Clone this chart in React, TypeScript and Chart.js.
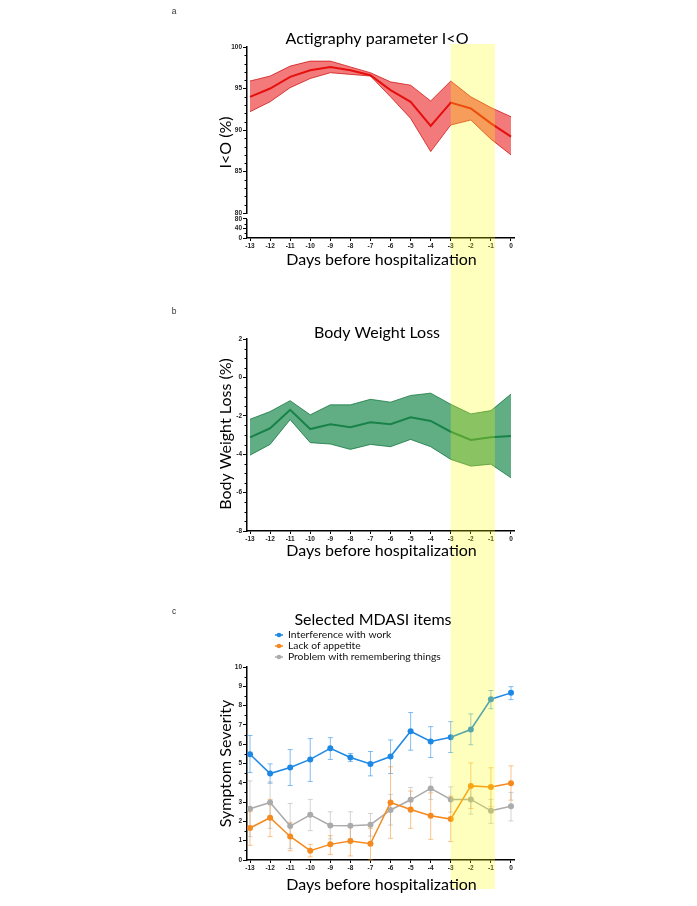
import React, { useEffect, useRef } from 'react';
import { Chart, registerables } from 'chart.js';
Chart.register(...registerables);

// ---------- data ----------
const days = [-13, -12, -11, -10, -9, -8, -7, -6, -5, -4, -3, -2, -1, 0];
const highlightFrom = -3;
const highlightTo = -0.8;

// panel a: Actigraphy parameter I<O
const ioMean = [94.0, 95.0, 96.4, 97.2, 97.6, 97.2, 96.6, 94.8, 93.4, 90.5, 93.3, 92.6, 90.8, 89.2];
const ioUpper = [95.9, 96.5, 97.7, 98.3, 98.3, 97.6, 96.9, 95.8, 95.4, 93.5, 95.9, 94.0, 92.7, 91.6];
const ioLower = [92.2, 93.4, 95.1, 96.2, 96.9, 96.7, 96.5, 94.0, 91.4, 87.4, 90.6, 91.2, 88.9, 87.0];
const ioTicks = [80, 85, 90, 95, 100];
const ioLowTicks = [0, 40, 80];

// panel b: Body Weight Loss
const bwMean = [-3.12, -2.65, -1.69, -2.69, -2.44, -2.60, -2.34, -2.44, -2.08, -2.27, -2.83, -3.26, -3.12, -3.05];
const bwUpper = [-2.18, -1.78, -1.21, -1.95, -1.43, -1.43, -1.14, -1.29, -0.94, -0.82, -1.40, -1.90, -1.73, -0.87];
const bwLower = [-4.05, -3.49, -2.20, -3.40, -3.47, -3.75, -3.49, -3.61, -3.23, -3.61, -4.27, -4.62, -4.52, -5.23];
const bwTicks = [-8, -6, -4, -2, 0, 2];

// panel c: Selected MDASI items
const seriesNames = ['Interference with work', 'Lack of appetite', 'Problem with remembering things'];
const workMean = [5.48, 4.48, 4.79, 5.21, 5.79, 5.31, 4.98, 5.36, 6.67, 6.14, 6.36, 6.76, 8.33, 8.66];
const workUpper = [6.45, 4.98, 5.72, 6.29, 6.34, 5.52, 5.62, 6.22, 7.64, 6.91, 7.17, 7.57, 8.78, 8.98];
const workLower = [4.53, 3.98, 3.86, 4.07, 5.21, 5.10, 4.36, 4.48, 5.69, 5.31, 5.57, 5.97, 7.84, 8.31];
const appetiteMean = [1.66, 2.19, 1.22, 0.48, 0.81, 0.98, 0.84, 2.98, 2.62, 2.29, 2.12, 3.84, 3.78, 3.98];
const appetiteUpper = [2.50, 3.14, 1.95, 0.81, 1.26, 1.78, 1.64, 4.83, 3.57, 3.48, 3.31, 5.03, 4.78, 4.88];
const appetiteLower = [0.76, 1.21, 0.48, 0.16, 0.29, 0.21, 0.00, 1.12, 1.64, 1.07, 0.95, 2.67, 2.76, 3.10];
const memoryMean = [2.66, 2.98, 1.76, 2.34, 1.79, 1.78, 1.83, 2.59, 3.12, 3.71, 3.14, 3.14, 2.55, 2.78];
const memoryUpper = [4.10, 4.05, 2.93, 3.14, 2.50, 2.50, 2.41, 3.40, 3.76, 4.28, 3.79, 3.85, 3.14, 3.50];
const memoryLower = [1.21, 1.64, 0.60, 1.52, 1.09, 1.09, 1.24, 1.81, 2.48, 3.14, 2.48, 2.38, 1.90, 2.02];
const severityTicks = [0, 1, 2, 3, 4, 5, 6, 7, 8, 9, 10];

// ---------- styling ----------
const W = 697;
const TEXT_FONT = 'Lato, "Open Sans", sans-serif';
const TICK_FONT = { family: '"Liberation Sans", Arial, sans-serif', size: 6.5, weight: 'bold' as const };
const seriesColors = ['#1E88E5', '#F5891E', '#ABABAB'];
const errColors = ['rgba(30,136,229,0.55)', 'rgba(245,137,30,0.5)', 'rgba(160,160,160,0.45)'];

const pts = (vals: number[]) => days.map((d, i) => ({ x: d, y: vals[i] }));

function xScale() {
  return {
    type: 'linear',
    min: -13.15,
    max: 0.15,
    afterBuildTicks: (s: any) => { s.ticks = days.map((v) => ({ value: v })); },
    afterFit: (s: any) => { s.height = 12; },
    ticks: { font: TICK_FONT, color: '#222', padding: 1, autoSkip: false, maxRotation: 0, callback: (v: any) => String(v) },
    grid: { drawOnChartArea: false, tickLength: 3, color: '#000', tickWidth: 1 },
    border: { color: '#000', width: 1.5 },
  };
}

function yScale(min: number, max: number, ticks: number[], extra: any = {}) {
  return {
    type: 'linear',
    position: 'left',
    min,
    max,
    afterBuildTicks: (s: any) => { s.ticks = ticks.map((v) => ({ value: v })); },
    afterFit: (s: any) => { s.width = 30; },
    ticks: { font: TICK_FONT, color: '#222', padding: 1, autoSkip: false, callback: (v: any) => String(v) },
    grid: { drawOnChartArea: false, tickLength: 4, color: '#000', tickWidth: 1 },
    border: { color: '#000', width: 1.5 },
    ...extra,
  };
}

function minorTicksPlugin(specs: { id: string; from: number; to: number; step: number; skip: number[] }[]) {
  return {
    id: 'minorTicks',
    afterDraw(chart: any) {
      const ctx = chart.ctx;
      ctx.save();
      ctx.strokeStyle = '#000';
      ctx.lineWidth = 1;
      for (const sp of specs) {
        const s = chart.scales[sp.id];
        for (let v = sp.from; v <= sp.to + 1e-9; v += sp.step) {
          if (sp.skip.some((m) => Math.abs(m - v) < 1e-6)) continue;
          const y = Math.round(s.getPixelForValue(v)) + 0.5;
          ctx.beginPath();
          ctx.moveTo(chart.chartArea.left - 2.5, y);
          ctx.lineTo(chart.chartArea.left, y);
          ctx.stroke();
        }
      }
      ctx.restore();
    },
  };
}

function bandPlugin(top: number, bottom: number) {
  return {
    id: 'band',
    afterDatasetsDraw(chart: any) {
      const x = chart.scales.x;
      const x0 = x.getPixelForValue(highlightFrom);
      const x1 = x.getPixelForValue(highlightTo);
      const ctx = chart.ctx;
      ctx.save();
      ctx.fillStyle = 'rgba(255,255,0,0.26)';
      ctx.fillRect(x0, top, x1 - x0, bottom - top);
      ctx.restore();
    },
  };
}

function textPlugin(o: {
  letter: string;
  title: string;
  titleX: number;
  titleY: number;
  xTitleY: number;
  yTitle: string;
  yTitleX: number;
  yCenter: (chart: any) => number;
  legend?: boolean;
}) {
  return {
    id: 'texts',
    afterDraw(chart: any) {
      const ctx = chart.ctx;
      const ca = chart.chartArea;
      ctx.save();
      ctx.textBaseline = 'middle';
      ctx.textAlign = 'center';
      ctx.font = '8.5px "Liberation Sans", Arial, sans-serif';
      ctx.fillStyle = '#333';
      ctx.fillText(o.letter, 174, 12);
      ctx.fillStyle = '#000';
      ctx.font = `16px ${TEXT_FONT}`;
      ctx.fillText(o.title, o.titleX, o.titleY);
      ctx.fillText('Days before hospitalization', (ca.left + ca.right) / 2 + 1, o.xTitleY);
      ctx.save();
      ctx.translate(o.yTitleX, o.yCenter(chart));
      ctx.rotate(-Math.PI / 2);
      ctx.font = `16px ${TEXT_FONT}`;
      ctx.fillText(o.yTitle, 0, 0);
      ctx.restore();
      if (o.legend) {
        const rows = [35, 46, 57];
        ctx.textAlign = 'left';
        ctx.font = `10.3px ${TEXT_FONT}`;
        seriesNames.forEach((name, i) => {
          const y = rows[i];
          ctx.strokeStyle = seriesColors[i];
          ctx.lineWidth = 1.5;
          ctx.beginPath();
          ctx.moveTo(275, y);
          ctx.lineTo(283, y);
          ctx.stroke();
          ctx.fillStyle = seriesColors[i];
          ctx.beginPath();
          ctx.arc(279, y, 2.3, 0, Math.PI * 2);
          ctx.fill();
          ctx.fillStyle = '#111';
          ctx.fillText(name, 288, y);
        });
      }
      ctx.restore();
    },
  };
}

function errorBarsPlugin(series: { upper: number[]; lower: number[]; color: string }[]) {
  return {
    id: 'errorBars',
    beforeDatasetsDraw(chart: any) {
      const xs = chart.scales.x;
      const ys = chart.scales.y;
      const ctx = chart.ctx;
      ctx.save();
      ctx.lineWidth = 1;
      for (const s of series) {
        ctx.strokeStyle = s.color;
        days.forEach((d, i) => {
          const px = xs.getPixelForValue(d);
          const y0 = ys.getPixelForValue(s.upper[i]);
          const y1 = ys.getPixelForValue(s.lower[i]);
          ctx.beginPath();
          ctx.moveTo(px, y0);
          ctx.lineTo(px, y1);
          ctx.moveTo(px - 2.5, y0);
          ctx.lineTo(px + 2.5, y0);
          ctx.moveTo(px - 2.5, y1);
          ctx.lineTo(px + 2.5, y1);
          ctx.stroke();
        });
      }
      ctx.restore();
    },
  };
}

const basePlugins = { legend: { display: false }, title: { display: false }, tooltip: { enabled: false } };

function bandDatasets(lower: number[], upper: number[], mean: number[], edge: string, fillColor: string, line: string) {
  return [
    { data: pts(lower), borderColor: edge, borderWidth: 0.8, pointRadius: 0, fill: false, tension: 0 },
    { data: pts(upper), borderColor: edge, borderWidth: 0.8, pointRadius: 0, fill: '-1', backgroundColor: fillColor, tension: 0 },
    { data: pts(mean), borderColor: line, borderWidth: 2, pointRadius: 0, fill: false, tension: 0 },
  ];
}

const cfgA = () => ({
  type: 'line',
  data: {
    datasets: bandDatasets(ioLower, ioUpper, ioMean, 'rgba(200,0,0,0.85)', 'rgba(235,25,25,0.58)', '#e00000').map((d) => ({ ...d, yAxisID: 'y' })),
  },
  options: {
    animation: false,
    responsive: false,
    layout: { padding: { left: 217, right: 183, top: 47, bottom: 50 } },
    plugins: basePlugins,
    scales: {
      x: xScale(),
      y: yScale(80, 100, ioTicks, { stack: 'io', stackWeight: 166, weight: 1 }),
      y2: yScale(0, 105, ioLowTicks, { stack: 'io', stackWeight: 25, weight: 0, border: { display: false } }),
    },
  },
  plugins: [
    minorTicksPlugin([
      { id: 'y', from: 80, to: 100, step: 1, skip: ioTicks },
      { id: 'y2', from: 0, to: 80, step: 20, skip: ioLowTicks },
    ]),
    {
      id: 'brokenAxis',
      afterDraw(chart: any) {
        const s = chart.scales.y2;
        const ctx = chart.ctx;
        ctx.save();
        ctx.strokeStyle = '#000';
        ctx.lineWidth = 1.5;
        ctx.beginPath();
        ctx.moveTo(chart.chartArea.left - 0.25, s.getPixelForValue(80));
        ctx.lineTo(chart.chartArea.left - 0.25, s.getPixelForValue(0));
        ctx.stroke();
        ctx.restore();
      },
    },
    bandPlugin(44, 300),
    textPlugin({
      letter: 'a',
      title: 'Actigraphy parameter I<O',
      titleX: 377,
      titleY: 39,
      xTitleY: 260,
      yTitle: 'I<O (%)',
      yTitleX: 226,
      yCenter: (c: any) => (c.scales.y.top + c.scales.y2.bottom) / 2,
    }),
  ],
});

const cfgB = () => ({
  type: 'line',
  data: {
    datasets: bandDatasets(bwLower, bwUpper, bwMean, 'rgba(10,110,55,0.9)', 'rgba(30,140,80,0.7)', '#0b6b3a'),
  },
  options: {
    animation: false,
    responsive: false,
    layout: { padding: { left: 217, right: 183, top: 39, bottom: 57 } },
    plugins: basePlugins,
    scales: { x: xScale(), y: yScale(-8, 2, bwTicks) },
  },
  plugins: [
    minorTicksPlugin([{ id: 'y', from: -8, to: 2, step: 0.5, skip: bwTicks }]),
    bandPlugin(0, 300),
    textPlugin({
      letter: 'b',
      title: 'Body Weight Loss',
      titleX: 377,
      titleY: 33,
      xTitleY: 251,
      yTitle: 'Body Weight Loss (%)',
      yTitleX: 226,
      yCenter: (c: any) => (c.chartArea.top + c.chartArea.bottom) / 2 - 1,
    }),
  ],
});

const cfgC = () => ({
  type: 'line',
  data: {
    datasets: [workMean, appetiteMean, memoryMean].map((vals, i) => ({
      label: seriesNames[i],
      data: pts(vals),
      borderColor: seriesColors[i],
      backgroundColor: seriesColors[i],
      borderWidth: 1.5,
      pointRadius: 3,
      pointBorderWidth: 0,
      fill: false,
      tension: 0,
    })),
  },
  options: {
    animation: false,
    responsive: false,
    layout: { padding: { left: 217, right: 183, top: 67, bottom: 34 } },
    plugins: basePlugins,
    scales: { x: xScale(), y: yScale(0, 10, severityTicks) },
  },
  plugins: [
    minorTicksPlugin([{ id: 'y', from: 0, to: 10, step: 0.5, skip: severityTicks }]),
    errorBarsPlugin([
      { upper: workUpper, lower: workLower, color: errColors[0] },
      { upper: appetiteUpper, lower: appetiteLower, color: errColors[1] },
      { upper: memoryUpper, lower: memoryLower, color: errColors[2] },
    ]),
    bandPlugin(0, 289),
    textPlugin({
      letter: 'c',
      title: 'Selected MDASI items',
      titleX: 373,
      titleY: 20,
      xTitleY: 285,
      yTitle: 'Symptom Severity',
      yTitleX: 226,
      yCenter: (c: any) => (c.chartArea.top + c.chartArea.bottom) / 2,
      legend: true,
    }),
  ],
});

function Panel({ height, make }: { height: number; make: () => any }) {
  const ref = useRef<HTMLCanvasElement>(null);
  useEffect(() => {
    const chart = new Chart(ref.current as HTMLCanvasElement, make());
    return () => chart.destroy();
  }, []);
  return <canvas ref={ref} width={W} height={height} style={{ display: 'block', width: W, height }} />;
}

export default function App() {
  return (
    <div style={{ position: 'absolute', left: 0, top: 0, width: W, height: 906, background: '#fff' }}>
      <Panel height={300} make={cfgA} />
      <Panel height={300} make={cfgB} />
      <Panel height={306} make={cfgC} />
    </div>
  );
}
